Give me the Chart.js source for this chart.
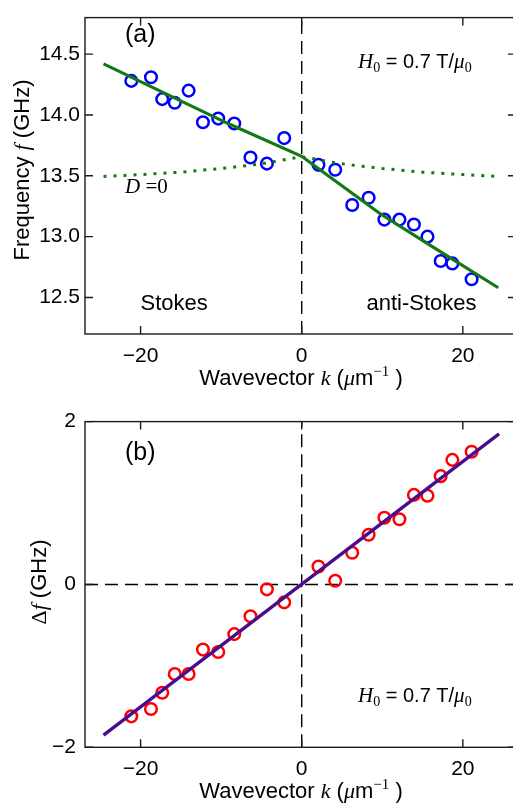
<!DOCTYPE html>
<html><head><meta charset="utf-8">
<script src="https://cdn.jsdelivr.net/npm/chart.js@4.4.1/dist/chart.umd.min.js"></script>
<style>
html,body{margin:0;padding:0;background:#fff;overflow:hidden;width:513px;height:805px;}
.wrap{position:absolute;left:0;width:530px;}
#w1{top:0;height:400px}
#w2{top:400px;height:405px}
canvas{display:block}
</style></head><body>
<div class="wrap" id="w1"><canvas id="c1" width="530" height="400"></canvas></div>
<div class="wrap" id="w2"><canvas id="c2" width="530" height="405"></canvas></div>
<script>
// ---- data ----
const kValues = [-21.15,-18.71,-17.31,-15.76,-14.04,-12.26,-10.36,-8.37,-6.36,-4.32,-2.17,2.08,4.16,6.27,8.31,10.26,12.13,13.93,15.61,17.25,18.70,21.09];
const freqValues = [14.28,14.31,14.13,14.10,14.20,13.94,13.97,13.93,13.65,13.60,13.81,13.59,13.55,13.26,13.32,13.14,13.14,13.10,13.00,12.80,12.78,12.65];
const dfValues = [-1.62,-1.53,-1.33,-1.10,-1.10,-0.80,-0.83,-0.61,-0.39,-0.06,-0.22,0.22,0.045,0.39,0.61,0.82,0.80,1.10,1.09,1.33,1.53,1.63];
const fitK = [-24.6,-9,0,3.5,9.7,17,24.4];
const fitFreq = [14.42,13.925,13.66,13.49,13.19,12.885,12.58];
const d0K = [-24.6,-20,-15,-10,-6,-3.5,-1.5,0,1.5,3.5,6,10,15,20,24.6];
const d0Freq = [13.495,13.51,13.53,13.56,13.59,13.615,13.64,13.655,13.64,13.613,13.59,13.56,13.53,13.51,13.495];
const linK = [-24.6, 24.5];
const linDf = [-1.85, 1.85];
const xTicks = [-20, 0, 20];
const yTicksA = [12.5, 13.0, 13.5, 14.0, 14.5];
const yTicksB = [-2, 0, 2];
const xRange = [-26.9, 26.6];
const yRangeA = [12.2, 14.8];
const yRangeB = [-2, 2];

const SANS = '"Liberation Sans", Arial, sans-serif';
const SERIF = '"Liberation Serif", "Times New Roman", serif';
const GREEN = '#137a13';
const PURPLE = '#4a0c8c';

function pts(xs, ys){ return xs.map((x,i)=>({x:x, y:ys[i]})); }
const fmtMinus = v => (v < 0 ? '\u2212' + Math.abs(v) : String(v));

function rich(ctx, segs, x, y, align, rot){
  ctx.save(); ctx.translate(x, y); if (rot) ctx.rotate(rot);
  let w = 0;
  for (const s of segs){ ctx.font = s.f; s.w = ctx.measureText(s.t).width; w += s.w; }
  let cx = align === 'center' ? -w/2 : (align === 'right' ? -w : 0);
  ctx.textBaseline = 'alphabetic'; ctx.textAlign = 'left'; ctx.fillStyle = '#000';
  for (const s of segs){ ctx.font = s.f; ctx.fillText(s.t, cx, s.dy || 0); cx += s.w; }
  ctx.restore();
}

const framePlugin = {
  id: 'frame',
  afterDatasetsDraw(chart){
    const {ctx, chartArea:a, scales} = chart;
    ctx.save();
    ctx.strokeStyle = '#1a1a1a'; ctx.lineWidth = 1.4;
    ctx.strokeRect(a.left, a.top, a.right - a.left, a.bottom - a.top);
    const L = 8;
    ctx.beginPath();
    scales.x.ticks.forEach(t => {
      const px = scales.x.getPixelForValue(t.value);
      ctx.moveTo(px, a.bottom); ctx.lineTo(px, a.bottom - L);
      ctx.moveTo(px, a.top); ctx.lineTo(px, a.top + L);
    });
    scales.y.ticks.forEach(t => {
      const py = scales.y.getPixelForValue(t.value);
      ctx.moveTo(a.left, py); ctx.lineTo(a.left + L, py);
      ctx.moveTo(a.right, py); ctx.lineTo(a.right - L, py);
    });
    ctx.stroke();
    ctx.restore();
  }
};

function xScale(pad){
  return {
    type: 'linear', min: xRange[0], max: xRange[1],
    afterBuildTicks: s => { s.ticks = xTicks.map(v => ({value: v})); },
    afterFit: s => { s.height = pad.h; },
    grid: {display: false, drawTicks: false},
    border: {display: false},
    ticks: {padding: pad.p, color: '#000', font: {family: SANS, size: 21}, callback: v => fmtMinus(v), maxRotation: 0}
  };
}

const annotA = {
  id: 'annotA',
  afterDraw(chart){
    const ctx = chart.ctx;
    rich(ctx, [{t:'(a)', f:'25px ' + SANS}], 125, 42, 'left');
    rich(ctx, [
      {t:'H', f:'italic 21px ' + SERIF},
      {t:'0', f:'14px ' + SERIF, dy: 4},
      {t:' = 0.7 T/', f:'20px ' + SANS},
      {t:'\u03bc', f:'italic 21px ' + SERIF},
      {t:'0', f:'14px ' + SERIF, dy: 4}
    ], 358, 68, 'left');
    rich(ctx, [
      {t:'D', f:'italic 21px ' + SERIF},
      {t:' =', f:'21px ' + SERIF},
      {t:'0', f:'21px ' + SERIF}
    ], 125, 193, 'left');
    rich(ctx, [{t:'Stokes', f:'22px ' + SANS}], 140.5, 310, 'left');
    rich(ctx, [{t:'anti-Stokes', f:'22px ' + SANS}], 366.5, 310, 'left');
    rich(ctx, [
      {t:'Wavevector ', f:'22px ' + SANS},
      {t:'k', f:'italic 22px ' + SERIF},
      {t:' (', f:'22px ' + SANS},
      {t:'\u03bc', f:'italic 22px ' + SERIF},
      {t:'m', f:'22px ' + SANS},
      {t:'\u22121', f:'15px ' + SERIF, dy: -9},
      {t:' )', f:'22px ' + SANS}
    ], 301, 385, 'center');
    rich(ctx, [
      {t:'Frequency ', f:'22px ' + SANS},
      {t:'f', f:'italic 22px ' + SERIF},
      {t:' (GHz)', f:'22px ' + SANS}
    ], 29, 170, 'center', -Math.PI/2);
  }
};

const annotB = {
  id: 'annotB',
  afterDraw(chart){
    const ctx = chart.ctx;
    rich(ctx, [{t:'(b)', f:'25px ' + SANS}], 125, 60, 'left');
    rich(ctx, [
      {t:'H', f:'italic 21px ' + SERIF},
      {t:'0', f:'14px ' + SERIF, dy: 4},
      {t:' = 0.7 T/', f:'20px ' + SANS},
      {t:'\u03bc', f:'italic 21px ' + SERIF},
      {t:'0', f:'14px ' + SERIF, dy: 4}
    ], 358, 301.5, 'left');
    rich(ctx, [
      {t:'Wavevector ', f:'22px ' + SANS},
      {t:'k', f:'italic 22px ' + SERIF},
      {t:' (', f:'22px ' + SANS},
      {t:'\u03bc', f:'italic 22px ' + SERIF},
      {t:'m', f:'22px ' + SANS},
      {t:'\u22121', f:'15px ' + SERIF, dy: -9},
      {t:' )', f:'22px ' + SANS}
    ], 301, 398, 'center');
    rich(ctx, [
      {t:'\u0394', f:'22px ' + SERIF},
      {t:'f', f:'italic 22px ' + SERIF},
      {t:' (GHz)', f:'22px ' + SANS}
    ], 46, 182, 'center', -Math.PI/2);
  }
};

const common = {
  responsive: false, animation: false,
  plugins: {legend: {display: false}, tooltip: {enabled: false}},
  elements: {line: {tension: 0}}
};

new Chart(document.getElementById('c1'), {
  type: 'scatter',
  data: {datasets: [
    {type:'line', data: pts(fitK, fitFreq), borderColor: GREEN, borderWidth: 3.2, pointRadius: 0, fill: false},
    {type:'line', data: pts(d0K, d0Freq), borderColor: GREEN, borderWidth: 3, borderDash: [3, 7], pointRadius: 0, fill: false},
    {data: pts(kValues, freqValues), pointStyle: 'circle', pointRadius: 5.8, pointBorderWidth: 2.5, borderColor: '#0000ff', pointBorderColor: '#0000ff', backgroundColor: 'rgba(0,0,0,0)', pointBackgroundColor: 'rgba(0,0,0,0)'},
    {type:'line', data: [{x:0, y:yRangeA[0]}, {x:0, y:yRangeA[1]}], borderColor: '#000', borderWidth: 1.4, borderDash: [13, 7], pointRadius: 0, fill: false}
  ]},
  options: Object.assign({}, common, {
    layout: {padding: {top: 4.3, right: 14, left: 0, bottom: 0}},
    scales: {
      x: xScale({h: 66, p: 10}),
      y: {
        type: 'linear', min: yRangeA[0], max: yRangeA[1],
        afterBuildTicks: s => { s.ticks = yTicksA.map(v => ({value: v})); },
        afterFit: s => { s.width = 85; },
        grid: {display: false, drawTicks: false},
        border: {display: false},
        ticks: {padding: 5, color: '#000', font: {family: SANS, size: 21}, callback: v => v.toFixed(1)}
      }
    }
  }),
  plugins: [framePlugin, annotA]
});

new Chart(document.getElementById('c2'), {
  type: 'scatter',
  data: {datasets: [
    {type:'line', data: pts(linK, linDf), borderColor: PURPLE, borderWidth: 3.3, pointRadius: 0, fill: false},
    {data: pts(kValues, dfValues), pointStyle: 'circle', pointRadius: 5.8, pointBorderWidth: 2.5, borderColor: '#ff0000', pointBorderColor: '#ff0000', backgroundColor: 'rgba(0,0,0,0)', pointBackgroundColor: 'rgba(0,0,0,0)'},
    {type:'line', data: [{x:0, y:yRangeB[0]}, {x:0, y:yRangeB[1]}], borderColor: '#000', borderWidth: 1.4, borderDash: [13, 7], pointRadius: 0, fill: false},
    {type:'line', data: [{x:xRange[0], y:0}, {x:xRange[1], y:0}], borderColor: '#000', borderWidth: 1.4, borderDash: [13, 7], pointRadius: 0, fill: false}
  ]},
  options: Object.assign({}, common, {
    layout: {padding: {top: 16.7, right: 14, left: 0, bottom: 0}},
    scales: {
      x: xScale({h: 57.7, p: 9}),
      y: {
        type: 'linear', min: yRangeB[0], max: yRangeB[1],
        afterBuildTicks: s => { s.ticks = yTicksB.map(v => ({value: v})); },
        afterFit: s => { s.width = 85; },
        grid: {display: false, drawTicks: false},
        border: {display: false},
        ticks: {padding: 9, color: '#000', font: {family: SANS, size: 21}, callback: v => fmtMinus(v)}
      }
    }
  }),
  plugins: [framePlugin, annotB]
});
</script>
</body></html>
